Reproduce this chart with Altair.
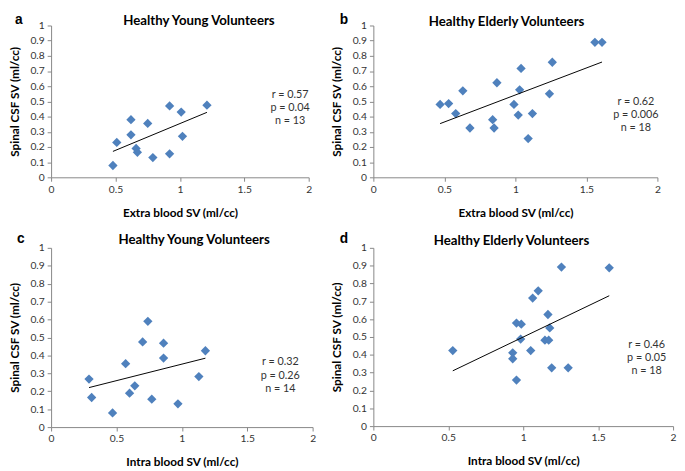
import altair as alt
import pandas as pd

FONT = "Lato"
LABEL_FONT = "Liberation Sans"
BLUE = "#4F81BD"
GRAY = "#868686"

y_title = "Spinal CSF SV (ml/cc)"
x_ticks = [0, 0.5, 1, 1.5, 2]
y_ticks = [0, 0.1, 0.2, 0.3, 0.4, 0.5, 0.6, 0.7, 0.8, 0.9, 1]

# Panel a: Healthy Young, Extra blood SV
a_x = [0.48, 0.51, 0.62, 0.62, 0.66, 0.67, 0.75, 0.79, 0.92, 0.92, 1.01, 1.02, 1.21]
a_y = [0.078, 0.23, 0.38, 0.28, 0.19, 0.165, 0.355, 0.13, 0.47, 0.155, 0.43, 0.27, 0.475]
a_stats = ["r = 0.57", "p = 0.04", "n  = 13"]

# Panel b: Healthy Elderly, Extra blood SV
b_x = [0.47, 0.53, 0.58, 0.63, 0.68, 0.84, 0.85, 0.87, 0.99, 1.02, 1.03, 1.04, 1.09, 1.12,
       1.24, 1.26, 1.56, 1.61]
b_y = [0.48, 0.486, 0.42, 0.57, 0.325, 0.38, 0.325, 0.623, 0.48, 0.41, 0.576, 0.717, 0.255,
       0.42, 0.55, 0.758, 0.889, 0.889]
b_stats = ["r = 0.62", "p = 0.006", "n = 18"]

# Panel c: Healthy Young, Intra blood SV
c_x = [0.29, 0.31, 0.47, 0.57, 0.60, 0.64, 0.70, 0.74, 0.77, 0.86, 0.86, 0.97, 1.13, 1.18]
c_y = [0.268, 0.165, 0.079, 0.354, 0.189, 0.23, 0.475, 0.59, 0.156, 0.385, 0.468, 0.13,
       0.282, 0.426]
c_stats = ["r = 0.32", "p = 0.26", "n = 14"]

# Panel d: Healthy Elderly, Intra blood SV
d_x = [0.53, 0.93, 0.93, 0.955, 0.955, 0.987, 0.983, 1.05, 1.063, 1.10, 1.145, 1.17, 1.165,
       1.177, 1.19, 1.255, 1.30, 1.574]
d_y = [0.424, 0.411, 0.378, 0.578, 0.258, 0.572, 0.488, 0.424, 0.718, 0.759, 0.482, 0.482,
       0.626, 0.551, 0.327, 0.892, 0.327, 0.888]
d_stats = ["r = 0.46", "p = 0.05", "n = 18"]


def text_layer(s, x, y, size, weight="normal", font=FONT, color="black",
               baseline="middle"):
    return alt.Chart(pd.DataFrame({"t": [s]})).mark_text(
        font=font, fontSize=size, fontWeight=weight, color=color,
        align="center", baseline=baseline
    ).encode(text="t:N", x=alt.value(x), y=alt.value(y))


def panel(xs, ys, xtitle, title, label, stats, w, h, tpos, lpos, spos):
    df = pd.DataFrame({"x": xs, "y": ys})
    xs_ = alt.Scale(domain=[0, 2], nice=False, zero=False)
    ys_ = alt.Scale(domain=[0, 1], nice=False, zero=False)
    xenc = alt.X("x:Q", scale=xs_, axis=alt.Axis(
        values=x_ticks, format="~g", title=xtitle, labelOverlap=False, labelFlush=False,
        titlePadding=13))
    yenc = alt.Y("y:Q", scale=ys_, axis=alt.Axis(
        values=y_ticks, format="~g", title=y_title, labelOverlap=False, labelFlush=False,
        titlePadding=9))
    pts = alt.Chart(df).mark_point(
        shape="diamond", filled=True, size=90, color=BLUE, opacity=1, strokeWidth=0
    ).encode(x=xenc, y=yenc)
    line = alt.Chart(df).transform_regression("x", "y").mark_line(
        color="black", strokeWidth=1
    ).encode(x=xenc, y=yenc)
    layers = [pts, line,
              text_layer(title, tpos[0], tpos[1], 13.5, "bold", baseline="alphabetic"),
              text_layer(label, lpos[0], lpos[1], 14, "bold", font=LABEL_FONT,
                         baseline="alphabetic")]
    for i, s in enumerate(stats):
        layers.append(text_layer(s, spos[0], spos[1] + i * 13.5, 11, color="#333333"))
    return alt.layer(*layers).properties(width=w, height=h)


panel_a = panel(a_x, a_y, "Extra blood SV (ml/cc)", "Healthy Young Volunteers", "a", a_stats,
                263, 155, (151, 0), (-33, -2), (244, 71))
panel_b = panel(b_x, b_y, "Extra blood SV (ml/cc)", "Healthy Elderly Volunteers", "b", b_stats,
                290, 155, (136, 1), (-30, -2), (268, 78))
panel_c = panel(c_x, c_y, "Intra blood SV (ml/cc)", "Healthy Young Volunteers", "c", c_stats,
                267, 183, (146, -4), (-31, -5), (234, 117))
panel_d = panel(d_x, d_y, "Intra blood SV (ml/cc)", "Healthy Elderly Volunteers", "d", d_stats,
                306, 182, (141, -3), (-30, -5), (279, 99))

chart = alt.concat(
    panel_a, panel_b, panel_c, panel_d, columns=2,
    spacing={"row": 72, "column": 62}, bounds="flush"
).properties(padding=0).configure_view(stroke=None).configure_axis(
    grid=False, domainColor=GRAY, tickColor=GRAY, tickSize=4, domainWidth=1, tickWidth=1,
    labelFont=FONT, labelFontSize=10.5, labelColor="#333333", labelPadding=3,
    titleFont=FONT, titleFontSize=12, titleFontWeight="bold", titleColor="black"
)

chart.save("out.html", embed_options={"renderer": "svg", "actions": False})
